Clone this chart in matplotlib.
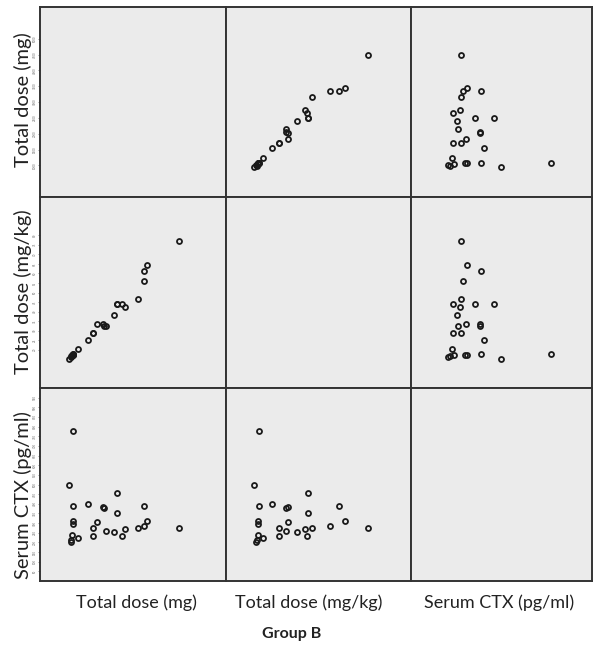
import matplotlib
matplotlib.use("Agg")
import matplotlib.pyplot as plt

# variables (one value per patient, group B)
names = ["Total dose (mg)", "Total dose (mg/kg)", "Serum CTX (pg/ml)"]
dose_mg = [4480, 3450, 3340, 3340, 3160, 2750, 2660, 2480, 2480, 2400, 2140, 2050, 2020,
           1840, 1700, 1700, 1550, 1240, 1070, 940, 1070, 1060, 1060, 1040, 990, 1010]
dose_mgkg = [76.9, 64.2, 61.1, 56.2, 46.4, 42.5, 43.8, 44.2, 44.2, 38.2, 32.3, 32.6, 33.4,
             33.4, 28.7, 28.7, 25.0, 20.2, 17.8, 15.0, 17.7, 17.1, 17.1, 17.1, 16.5, 16.0]
ctx = [277, 310, 387, 287, 275, 268, 232, 458, 352, 255, 261, 380, 382,
       305, 275, 232, 401, 225, 775, 495, 387, 310, 296, 239, 213, 204]
limites = [(0, 6000), (0, 100), (0, 1000)]
graduations = [[1000, 1500, 2000, 2500, 3000, 3500, 4000, 4500, 5000],
               [20, 25, 30, 35, 40, 45, 50, 55, 60, 65, 70, 75, 80],
               [50, 100, 150, 200, 250, 300, 350, 400, 450, 500, 550, 600, 650, 700, 750, 800, 850, 900, 950]]

donnees = [dose_mg, dose_mgkg, ctx]

W, H = 597, 651
fig = plt.figure(figsize=(W / 100, H / 100), dpi=100)

col_bords = [40, 226, 411, 592]
lig_bords = [7, 197, 388, 581]

for i in range(3):
    for j in range(3):
        x0, x1 = col_bords[j], col_bords[j + 1]
        y0, y1 = lig_bords[i], lig_bords[i + 1]
        ax = fig.add_axes([x0 / W, 1 - y1 / H, (x1 - x0) / W, (y1 - y0) / H])
        ax.set_facecolor("#ebebeb")
        for s in ax.spines.values():
            s.set_color("#333333")
            s.set_linewidth(1.4)
        ax.set_xlim(limites[j])
        ax.set_ylim(limites[i])
        ax.set_xticks([])
        if j == 0:
            ax.set_yticks(graduations[i])
            ax.set_yticklabels([str(v) for v in graduations[i]], fontsize=2, rotation=90,
                               color="#666666", va="center")
            ax.tick_params(axis="y", length=1.5, width=0.5, pad=0.5, colors="#666666")
        else:
            ax.set_yticks([])
        if i != j:
            ax.plot(donnees[j], donnees[i], "o", ms=3.6, mfc="none",
                    mec="#1a1a1a", mew=1.3, linestyle="none")

police = ["Lato", "DejaVu Sans"]
y_centres = [100, 292, 495]
for i, nom in enumerate(names):
    fig.text(23 / W, 1 - y_centres[i] / H, nom, rotation=90, ha="center", va="center",
             fontsize=14.5, color="#222222", family=police)

x_centres = [136, 309, 499]
for j, nom in enumerate(names):
    fig.text(x_centres[j] / W, 1 - 603 / H, nom, ha="center", va="center",
             fontsize=13, color="#222222", family=police)

fig.text(292 / W, 1 - 634 / H, "Group B", ha="center", va="center",
         fontsize=11.5, fontweight="bold", color="#222222", family=police)

plt.savefig("out.png", dpi=100)
